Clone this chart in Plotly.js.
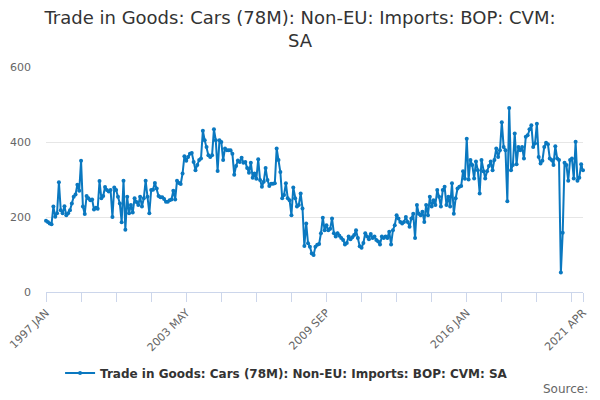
<!DOCTYPE html>
<html>
<head>
<meta charset="utf-8">
<script src="https://cdn.plot.ly/plotly-3.0.1.min.js"></script>
<style>
  html, body { margin: 0; padding: 0; background: #fff; }
  #graph { width: 600px; height: 400px; }
</style>
</head>
<body>
<div id="graph"></div>
<script>
// monthly values, £ million (CVM)
const imports1997to2000 = [190,187,183,181,228,201,210,293,218,210,229,205,
  210,218,236,254,260,286,270,350,228,208,256,250,245,247,220,225,222,296,
  250,256,280,272,268,272,200,279,272,254,236,186,297,166,254,210,232,212];
const imports2001to2005Jul = [250,240,232,254,228,250,297,254,210,272,
  273,291,276,256,253,253,248,241,241,245,247,270,247,297,291,288,316,362,350,360,
  369,371,347,325,339,352,356,430,405,387,365,360,365,434,405,323,405,400,352,383,
  378,378,378,369,313];
const imports2005Augto2009Oct = [336,351,347,358,345,347,331,318,345,305,316,302,
  354,299,281,294,331,299,283,289,289,290,383,352,320,250,259,290,250,245,205,279,
  250,228,232,263,223,123,183,130,121,103,99,121,126,128,157,198,165,178,165];
const imports2009Novto2014Feb = [169,196,157,148,157,150,144,139,127,131,
  148,141,146,152,165,144,122,118,131,157,148,141,155,144,148,139,135,127,148,144,
  148,144,161,127,165,178,205,196,187,183,187,200,187,174,196,209,144,232,209,205,
  214,187];
const imports2014Marto2018May = [232,205,254,228,245,232,272,254,228,272,281,232,
  254,228,290,209,250,276,281,283,322,302,409,300,352,339,303,348,325,263,352,322,
  303,322,336,348,325,352,383,360,378,453,387,378,242,491,325,339,423,341,387];
const imports2018Junto2021Apr = [378,387,356,414,418,434,445,387,396,449,360,343,
  350,387,398,394,356,352,339,389,356,352,52,158,345,339,297,352,356,303,401,297,
  305,341,325];

const monthNames = ['JAN','FEB','MAR','APR','MAY','JUN','JUL','AUG','SEP','OCT','NOV','DEC'];
const tickLabels = ['1997 JAN','2003 MAY','2009 SEP','2016 JAN','2021 APR'];
const seriesName = 'Trade in Goods: Cars (78M): Non-EU: Imports: BOP: CVM: SA';

const imports = [].concat(imports1997to2000, imports2001to2005Jul, imports2005Augto2009Oct,
  imports2009Novto2014Feb, imports2014Marto2018May, imports2018Junto2021Apr);

const months = [];
for (let i = 0; i < imports.length; i++) {
  months.push((1997 + Math.floor(i / 12)) + ' ' + monthNames[i % 12]);
}

// a tick every 19 months plus the last month, labels only on some
const tickVals = [];
const tickText = [];
for (let i = 0; i < months.length - 6; i += 19) tickVals.push(months[i]);
tickVals.push(months[months.length - 1]);
tickVals.forEach(function(m) { tickText.push(tickLabels.indexOf(m) >= 0 ? m : ''); });

const trace = {
  x: months,
  y: imports,
  type: 'scatter',
  mode: 'lines+markers',
  name: seriesName,
  line: { color: '#0a78c0', width: 2 },
  marker: { color: '#0a78c0', size: 4 },
  cliponaxis: false,
  hoverinfo: 'none'
};

const layout = {
  width: 600,
  height: 400,
  margin: { l: 46, r: 17, t: 67, b: 108, pad: 0 },
  paper_bgcolor: '#fff',
  plot_bgcolor: '#fff',
  font: { family: 'DejaVu Sans, sans-serif', color: '#666' },
  title: {
    text: 'Trade in Goods: Cars (78M): Non-EU: Imports: BOP: CVM:<br>SA',
    font: { family: 'DejaVu Sans, sans-serif', size: 18, color: '#333' },
    x: 0.5, xanchor: 'center',
    y: 0.94, yanchor: 'top'
  },
  xaxis: {
    type: 'category',
    range: [0, months.length - 1],
    tickmode: 'array',
    tickvals: tickVals,
    ticktext: tickText,
    tickangle: -45,
    ticks: 'outside',
    ticklen: 9,
    tickcolor: '#ccd6eb',
    tickfont: { size: 11, color: '#666' },
    showline: true,
    linecolor: '#ccd6eb',
    linewidth: 1,
    showgrid: false,
    zeroline: false
  },
  yaxis: {
    range: [0, 600],
    tickvals: [0, 200, 400, 600],
    tickfont: { size: 11, color: '#666' },
    ticklabelstandoff: 14,
    gridcolor: '#e6e6e6',
    gridwidth: 1,
    zeroline: false,
    showline: false
  },
  showlegend: true,
  legend: {
    orientation: 'h',
    x: 0.448, xanchor: 'center',
    y: -0.36, yanchor: 'middle',
    font: { size: 12, color: '#333', weight: 'bold' },
    itemwidth: 30
  },
  annotations: [{
    text: 'Source:',
    xref: 'paper', yref: 'paper',
    x: 1.013, y: -0.43,
    xanchor: 'right', yanchor: 'middle',
    showarrow: false,
    font: { size: 12, color: '#666' }
  }]
};

Plotly.newPlot('graph', [trace], layout, { displayModeBar: false, staticPlot: true });
</script>
</body>
</html>
